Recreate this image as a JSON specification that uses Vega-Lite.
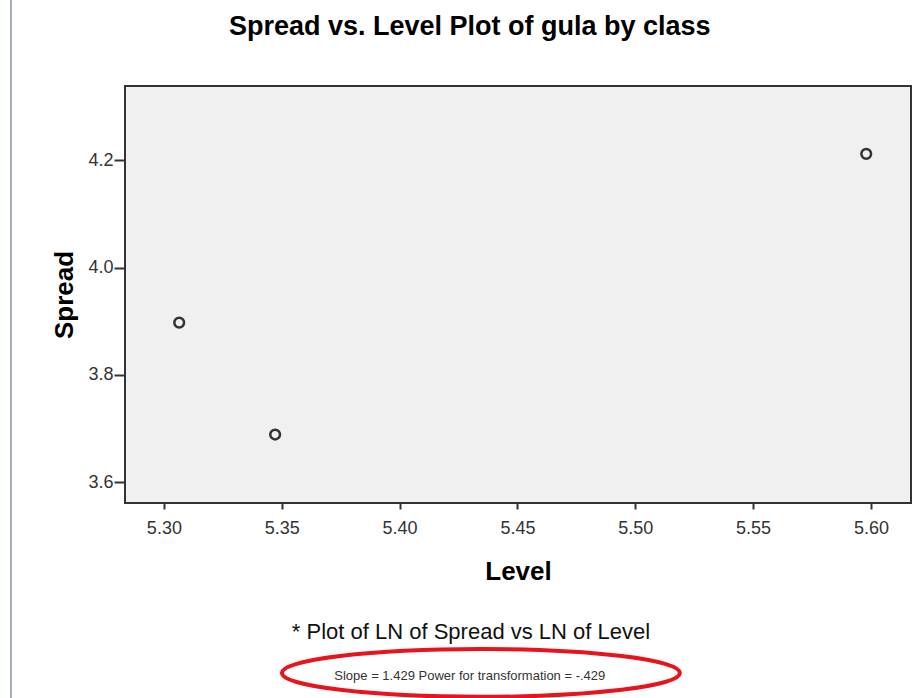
{
  "$schema": "https://vega.github.io/schema/vega-lite/v6.json",
  "autosize": {"type": "none"},
  "padding": {"left": 125, "top": 86, "right": 10, "bottom": 195},
  "width": 786,
  "height": 417,
  "background": "white",
  "config": {"view": {"stroke": "#333333", "strokeWidth": 2, "fill": "#f0f0f0"}, "font": "Liberation Sans"},
  "layer": [
    {
      "data": {"values": [
        {"level": 5.3065, "spread": 3.8975},
        {"level": 5.3472, "spread": 3.689},
        {"level": 5.598, "spread": 4.212}
      ]},
      "mark": {"type": "point", "filled": false, "stroke": "#333333", "strokeWidth": 2.5, "size": 95, "opacity": 1},
      "encoding": {
        "x": {"field": "level", "type": "quantitative",
          "scale": {"domain": [5.2835, 5.617], "nice": false, "zero": false},
          "axis": {"title": "Level", "titleFontSize": 26, "titleFontWeight": "bold", "titleColor": "black", "titlePadding": 21,
            "values": [5.3, 5.35, 5.4, 5.45, 5.5, 5.55, 5.6], "format": ".2f", "labelFontSize": 18, "labelColor": "#333333",
            "tickSize": 6, "tickWidth": 2, "tickColor": "#333333", "labelPadding": 10, "domain": false, "grid": false, "labelFlush": false}},
        "y": {"field": "spread", "type": "quantitative",
          "scale": {"domain": [3.5614, 4.3384], "nice": false, "zero": false},
          "axis": {"title": "Spread", "titleFontSize": 26, "titleFontWeight": "bold", "titleColor": "black", "titlePadding": 10,
            "values": [3.6, 3.8, 4.0, 4.2], "format": ".1f", "labelFontSize": 18, "labelColor": "#333333",
            "tickSize": 11, "tickWidth": 2, "tickColor": "#333333", "labelPadding": 1, "domain": false, "grid": false, "labelFlush": false}}
      }
    },
    {
      "data": {"values": [{"note": "Spread vs. Level Plot of gula by class"}]},
      "mark": {"type": "text", "fontSize": 27, "fontWeight": "bold", "color": "black", "align": "center", "baseline": "middle", "clip": false},
      "encoding": {
        "x": {"datum": 5.4298, "type": "quantitative"},
        "y": {"datum": 4.4484, "type": "quantitative"},
        "text": {"field": "note"}
      }
    },
    {
      "data": {"values": [{"note": "* Plot of LN of Spread vs LN of Level"}]},
      "mark": {"type": "text", "fontSize": 22, "color": "#111111", "align": "center", "baseline": "middle", "clip": false},
      "encoding": {
        "x": {"datum": 5.4303, "type": "quantitative"},
        "y": {"datum": 3.3211, "type": "quantitative"},
        "text": {"field": "note"}
      }
    },
    {
      "data": {"values": [{"note": "Slope = 1.429 Power for transformation = -.429"}]},
      "mark": {"type": "text", "fontSize": 13, "color": "#333333", "align": "center", "baseline": "middle", "clip": false},
      "encoding": {
        "x": {"datum": 5.4298, "type": "quantitative"},
        "y": {"datum": 3.2391, "type": "quantitative"},
        "text": {"field": "note"}
      }
    },
    {
      "data": {"values": [{}]},
      "mark": {"type": "point", "shape": "M -1 0 A 1 0.12 0 1 1 1 0 A 1 0.12 0 1 1 -1 0 Z", "filled": false, "stroke": "#e8141c", "strokeWidth": 4, "size": 158404, "opacity": 1, "clip": false},
      "encoding": {
        "x": {"datum": 5.4345, "type": "quantitative"},
        "y": {"datum": 3.2447, "type": "quantitative"}
      }
    },
    {
      "data": {"values": [{}]},
      "mark": {"type": "rule", "stroke": "#a0acb8", "strokeWidth": 2, "clip": false},
      "encoding": {
        "x": {"datum": 5.2351, "type": "quantitative"},
        "y": {"datum": 4.4987, "type": "quantitative"},
        "y2": {"datum": 3.1981}
      }
    }
  ]
}
